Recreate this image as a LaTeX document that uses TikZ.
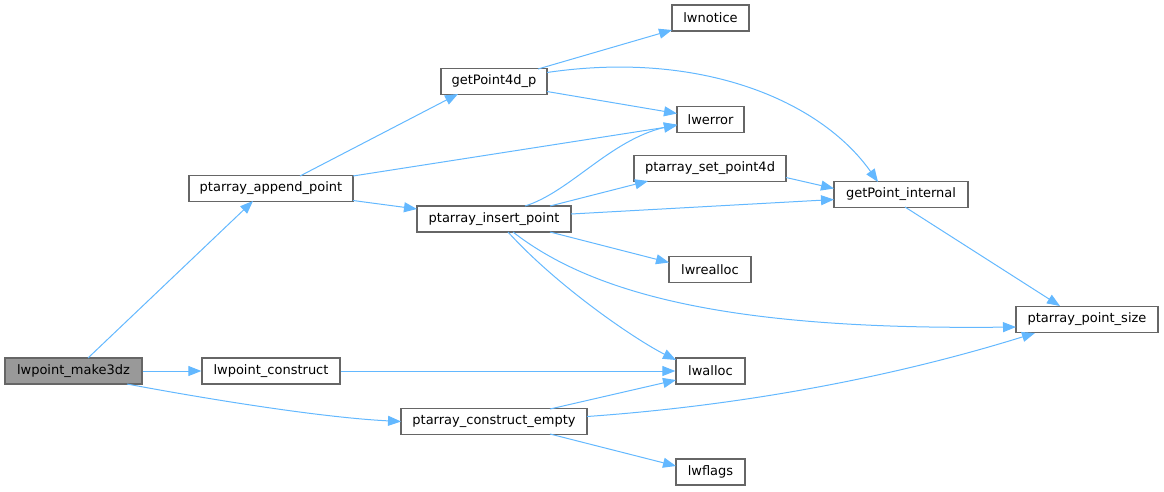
\documentclass[tikz,border=0pt]{standalone}
\usepackage{fontspec}
\setmainfont{DejaVu Sans}
\usetikzlibrary{arrows.meta,calc}
\definecolor{edgeblue}{HTML}{63B8FF}
\definecolor{boxgray}{HTML}{666666}
\definecolor{fillgray}{HTML}{999999}
\begin{document}
\begin{tikzpicture}[x=1pt,y=-1pt,
  fn/.style={draw=boxgray,line width=1.3pt,fill=white,inner sep=0pt,minimum height=26pt,
    font=\fontsize{13}{15}\selectfont,text=black},
  cur/.style={fn,fill=fillgray},
  call/.style={draw=edgeblue,line width=1pt,-{Triangle[length=13pt,width=10pt]}}]
\useasboundingbox (0,0) rectangle (1164,491);
\node[cur,minimum width=137pt] (make) at (73.5,371) {lwpoint\_make3dz};
\node[fn,minimum width=138pt] (construct) at (271,371) {lwpoint\_construct};
\node[fn,minimum width=164pt] (append) at (271,188.5) {ptarray\_append\_point};
\node[fn,minimum width=186pt] (empty) at (494,421.5) {ptarray\_construct\_empty};
\node[fn,minimum width=106pt] (g4d) at (494,81.5) {getPoint4d\_p};
\node[fn,minimum width=154pt] (ins) at (494,219) {ptarray\_insert\_point};
\node[fn,minimum width=77pt] (notice) at (710.5,18) {lwnotice};
\node[fn,minimum width=67pt] (err) at (710.5,119.5) {lwerror};
\node[fn,minimum width=152pt] (set) at (710,168.5) {ptarray\_set\_point4d};
\node[fn,minimum width=82pt] (realloc) at (710,269.5) {lwrealloc};
\node[fn,minimum width=69pt] (alloc) at (710.5,371) {lwalloc};
\node[fn,minimum width=69pt] (flags) at (710.5,472) {lwflags};
\node[fn,minimum width=134pt] (gpi) at (901,194.5) {getPoint\_internal};
\node[fn,minimum width=142pt] (psize) at (1087,319.5) {ptarray\_point\_size};

\draw[call] ($(make)+(14.5,-13)$) -- ($(append)+(-18,12.5)$);
\draw[call] (make.east) -- (construct.west);
\draw[call] ($(make)+(53.5,13)$) .. controls +(80,15) and +(-80,-4) .. ($(empty)+(-93,0)$);
\draw[call] ($(append)+(29,-12.5)$) -- ($(g4d)+(-36,12.5)$);
\draw[call] ($(append)+(82,-12.5)$) -- ($(err)+(-33.5,6)$);
\draw[call] ($(append)+(82,12)$) -- ($(ins)+(-77,-10)$);
\draw[call] ($(g4d)+(44,-12.5)$) -- ($(notice)+(-38.5,12)$);
\draw[call] ($(g4d)+(53,10)$) -- ($(err)+(-33.5,-6)$);
\draw[call] ($(g4d)+(53,-9)$) .. controls +(153,-22.5) and +(-58,-82) .. ($(gpi)+(-23,-12.5)$);
\draw[call] (construct.east) -- (alloc.west);
\draw[call] ($(empty)+(56,-12.5)$) -- ($(alloc)+(-34.5,9)$);
\draw[call] ($(empty)+(93,-5)$) .. controls +(163,-11.5) and +(-135,42) .. ($(psize)+(-52,13.5)$);
\draw[call] ($(empty)+(56,12.5)$) -- ($(flags)+(-34.5,-6)$);
\draw[call] ($(ins)+(31,-13)$) .. controls +(45,-14) and +(-67,15.5) .. ($(err)+(-33.5,5)$);
\draw[call] ($(ins)+(56,-13)$) -- ($(set)+(-62,12.5)$);
\draw[call] ($(ins)+(77,-5)$) -- ($(gpi)+(-67,5)$);
\draw[call] ($(ins)+(56,13)$) -- ($(realloc)+(-41,-7)$);
\draw[call] ($(ins)+(14,13)$) .. controls +(50,55) and +(-40,-20) .. ($(alloc)+(-34.5,-11)$);
\draw[call] ($(ins)+(19,13)$) .. controls +(87,68) and +(-266,3) .. ($(psize)+(-71,7.5)$);
\draw[call] ($(set)+(76,9)$) -- ($(gpi)+(-67,-6)$);
\draw[call] ($(gpi)+(4,12.5)$) -- ($(psize)+(-27,-13.5)$);
\end{tikzpicture}
\end{document}
